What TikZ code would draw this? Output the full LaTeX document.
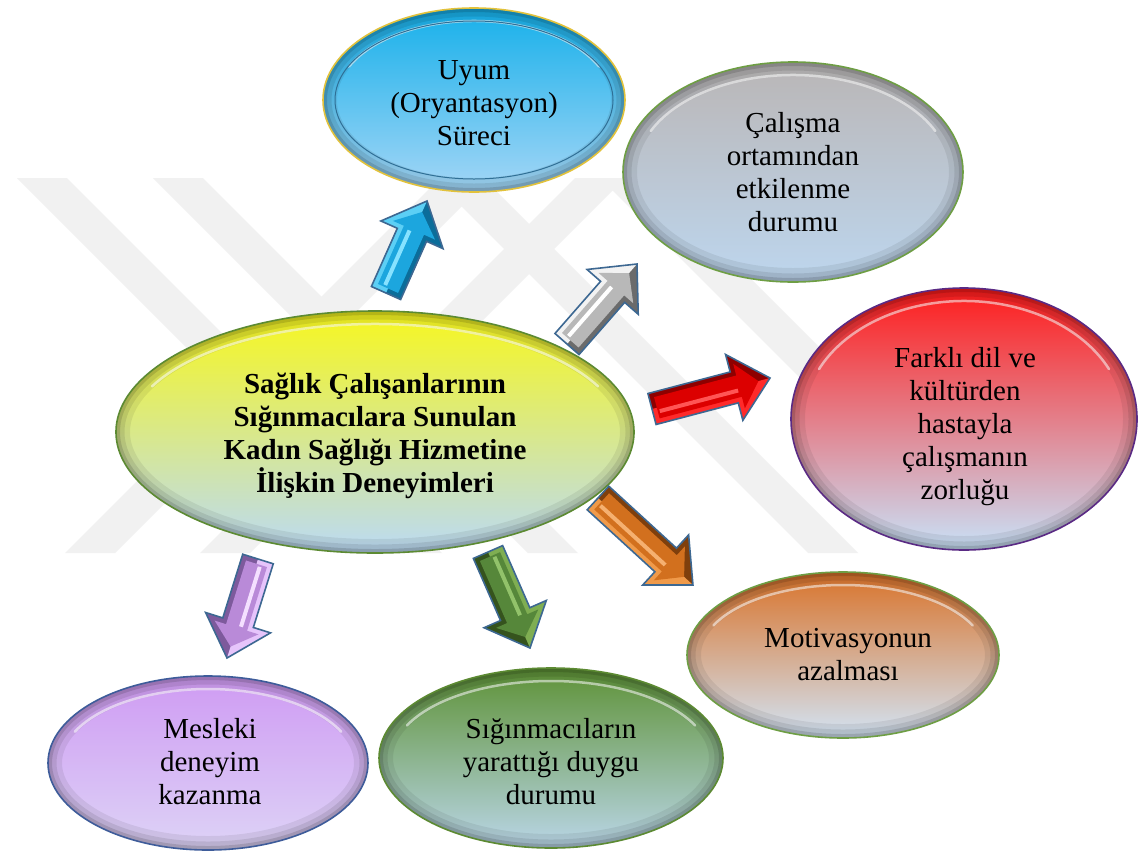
\documentclass[tikz,border=0pt]{standalone}
\usepackage{fontspec}
\setmainfont{Liberation Serif}
\usetikzlibrary{shapes.geometric}

% bubble fills
\definecolor{wm}{HTML}{F1F1F1}
\definecolor{bluetop}{HTML}{16B0EA}
\definecolor{bluemid}{HTML}{45C0F0}
\definecolor{bluebot}{HTML}{A4D6F6}
\definecolor{blueedge}{HTML}{E2C23C}
\definecolor{blueinner}{HTML}{2F6F96}
\definecolor{greytop}{HTML}{BAB6B6}
\definecolor{greymid}{HTML}{B9BCC2}
\definecolor{greybot}{HTML}{BDD6EE}
\definecolor{greyedge}{HTML}{6E9E44}
\definecolor{redtop}{HTML}{FF1C1C}
\definecolor{redmid}{HTML}{DE8396}
\definecolor{redbot}{HTML}{C8E2F8}
\definecolor{rededge}{HTML}{5A2A84}
\definecolor{yeltop}{HTML}{F7F71E}
\definecolor{yelmid}{HTML}{E5F0A2}
\definecolor{yelbot}{HTML}{BBDAF5}
\definecolor{yeledge}{HTML}{5C8A32}
\definecolor{orgtop}{HTML}{D9732A}
\definecolor{orgmid}{HTML}{DE9A60}
\definecolor{orgbot}{HTML}{D2E4F5}
\definecolor{orgedge}{HTML}{6E9E44}
\definecolor{grntop}{HTML}{5E9236}
\definecolor{grnmid}{HTML}{88AE7A}
\definecolor{grnbot}{HTML}{BAD6E8}
\definecolor{grnedge}{HTML}{5C8A32}
\definecolor{purtop}{HTML}{CF9BF3}
\definecolor{purmid}{HTML}{D4A9F4}
\definecolor{purbot}{HTML}{DDD3F6}
\definecolor{puredge}{HTML}{3E5C9A}
% block arrow colours
\definecolor{arrline}{HTML}{3D6892}
\definecolor{bluearrdark}{HTML}{0B6D9A}
\definecolor{bluearrlight}{HTML}{5CCFF5}
\definecolor{bluearrbase}{HTML}{1CA6DE}
\definecolor{bluearrhi}{HTML}{86E2FF}
\definecolor{greyarrdark}{HTML}{6B6B6B}
\definecolor{greyarrlight}{HTML}{F2F2F2}
\definecolor{greyarrbase}{HTML}{B8B8B8}
\definecolor{greyarrhi}{HTML}{FFFFFF}
\definecolor{redarrdark}{HTML}{8E0000}
\definecolor{redarrlight}{HTML}{FF2A2A}
\definecolor{redarrbase}{HTML}{DC0000}
\definecolor{redarrhi}{HTML}{FF5555}
\definecolor{orgarrdark}{HTML}{7F3F0C}
\definecolor{orgarrlight}{HTML}{F09A4A}
\definecolor{orgarrbase}{HTML}{D2701E}
\definecolor{orgarrhi}{HTML}{F5B070}
\definecolor{purarrdark}{HTML}{7D5A9C}
\definecolor{purarrlight}{HTML}{E6C4FB}
\definecolor{purarrbase}{HTML}{B98AD8}
\definecolor{purarrhi}{HTML}{F4E0FF}
\definecolor{grnarrdark}{HTML}{35531D}
\definecolor{grnarrlight}{HTML}{7FAE52}
\definecolor{grnarrbase}{HTML}{56873A}
\definecolor{grnarrhi}{HTML}{92C26A}

\tikzset{
  labeltext/.style={font=\fontsize{29}{33}\selectfont, align=center, inner sep=0pt, text=black},
  bubble/.style={ellipse, inner sep=0pt, draw=none},
  arrowedge/.style={draw=arrline, line width=1.6pt, line join=miter},
}

% bevelled ellipse: name, cx, cy, rx, ry, top, middle, bottom, border
\newcommand\bubble[9]{%
  \node[bubble, minimum width={2*#4pt}, minimum height={2*#5pt}] (#1) at (#2,#3) {};
  \begin{scope}
    \clip (#1.center) ellipse [x radius=#4pt, y radius=#5pt];
    \shade[top color=#6, middle color=#7, bottom color=#8]
      (#1.center) ellipse [x radius=#4pt, y radius=#5pt];
    \draw[black, opacity=.07, line width=28pt] (#1.center) ellipse [x radius=#4pt, y radius=#5pt];
    \draw[black, opacity=.09, line width=17pt] (#1.center) ellipse [x radius=#4pt, y radius=#5pt];
    \draw[black, opacity=.13, line width=8pt] (#1.center) ellipse [x radius=#4pt, y radius=#5pt];
    \draw[white, opacity=.55, line width=2.5pt, line cap=round]
      (#1.center) ++(155:{#4pt-13pt} and {#5pt-13pt})
      arc [start angle=155, end angle=25, x radius={#4pt-13pt}, y radius={#5pt-13pt}];
  \end{scope}
  \draw[#9, line width=1.6pt] (#1.center) ellipse [x radius=#4pt, y radius=#5pt];
}

% bevelled block arrow between two named coordinates: from, to, colour prefix, lit side (1 or -1)
\newcommand\blockarrow[4]{%
  \path (#1); \pgfgetlastxy{\arax}{\aray}
  \path (#2); \pgfgetlastxy{\arbx}{\arby}
  \pgfmathsetmacro\arang{atan2(\arby-\aray,\arbx-\arax)}
  \pgfmathsetmacro\L{veclen(\arbx-\arax,\arby-\aray)}
  \begin{scope}[shift={(#1)}, rotate=\arang, x=1pt, y=1pt]
    \def\outerpath{(0,-16) -- (\L-37,-16) -- (\L-37,-34) -- (\L,0) -- (\L-37,34) -- (\L-37,16) -- (0,16) -- cycle}
    \fill[#3dark] \outerpath;
    \begin{scope}
      \clip (-5,0) rectangle (\L+5,#4*40);
      \fill[#3light] \outerpath;
    \end{scope}
    \fill[#3base] (5,-11) -- (\L-32,-11) -- (\L-32,-23) -- (\L-12,0) -- (\L-32,23) -- (\L-32,11) -- (5,11) -- cycle;
    \fill[#3hi] (7,#4*2) rectangle (\L-34,#4*6);
    \draw[arrowedge] \outerpath;
  \end{scope}
}

\begin{document}
\begin{tikzpicture}[x=1pt, y=-1pt]
  \useasboundingbox (0,0) rectangle (1139,852);
  \fill[white] (0,0) rectangle (1139,852);

  % faint background emblem made of diagonal bands
  \begin{scope}
    \clip (0,178) rectangle (880,553);
    \foreach \bx in {17,153,433,600}
      \fill[wm] (\bx,178) -- (\bx+50,178) -- (\bx+425,553) -- (\bx+375,553) -- cycle;
    \foreach \bx in {440,575}
      \fill[wm] (\bx,178) -- (\bx+50,178) -- (\bx-325,553) -- (\bx-375,553) -- cycle;
  \end{scope}

  % bubbles
  \bubble{uyum}{474}{100}{151}{92}{bluetop}{bluemid}{bluebot}{blueedge}
  \draw[blueinner, line width=1pt] (uyum.center) ellipse [x radius=139pt, y radius=79pt];
  \bubble{calisma}{793}{172}{170}{110}{greytop}{greymid}{greybot}{greyedge}
  \bubble{farkli}{964}{419}{173}{131}{redtop}{redmid}{redbot}{rededge}
  \bubble{merkez}{375}{432}{259}{121}{yeltop}{yelmid}{yelbot}{yeledge}
  \bubble{motiv}{843}{655}{156}{83}{orgtop}{orgmid}{orgbot}{orgedge}
  \bubble{duygu}{551}{758}{172}{90}{grntop}{grnmid}{grnbot}{grnedge}
  \bubble{mesleki}{208}{763}{160}{87}{purtop}{purmid}{purbot}{puredge}

  % texts
  \node[labeltext] (uyum-t) at (474,103) {Uyum\\(Oryantasyon)\\Süreci};
  \node[labeltext] (calisma-t) at (793,172) {Çalışma\\ortamından\\etkilenme\\durumu};
  \node[labeltext] (farkli-t) at (965,427) {Farklı dil ve\\kültürden\\hastayla\\çalışmanın\\zorluğu};
  \node[labeltext, font=\fontsize{29}{33}\selectfont\bfseries] (merkez-t) at (375,436)
    {Sağlık Çalışanlarının\\Sığınmacılara Sunulan\\Kadın Sağlığı Hizmetine\\İlişkin Deneyimleri};
  \node[labeltext] (motiv-t) at (848,655) {Motivasyonun\\azalması};
  \node[labeltext] (duygu-t) at (551,762) {Sığınmacıların\\yarattığı duygu\\durumu};
  \node[labeltext] (mesleki-t) at (210,762) {Mesleki\\deneyim\\kazanma};

  % arrow end points
  \coordinate (au-s) at (386,293);  \coordinate (au-e) at (427,201);
  \coordinate (ac-s) at (567,344);  \coordinate (ac-e) at (637,264);
  \coordinate (af-s) at (652,409);  \coordinate (af-e) at (770,378);
  \coordinate (am-s) at (598,498);  \coordinate (am-e) at (693,585);
  \coordinate (ad-s) at (488,552);  \coordinate (ad-e) at (530,648);
  \coordinate (ak-s) at (258,559);  \coordinate (ak-e) at (227,658);

  \blockarrow{au-s}{au-e}{bluearr}{1}
  \blockarrow{ac-s}{ac-e}{greyarr}{1}
  \blockarrow{af-s}{af-e}{redarr}{-1}
  \blockarrow{am-s}{am-e}{orgarr}{-1}
  \blockarrow{ad-s}{ad-e}{grnarr}{1}
  \blockarrow{ak-s}{ak-e}{purarr}{1}
\end{tikzpicture}
\end{document}
